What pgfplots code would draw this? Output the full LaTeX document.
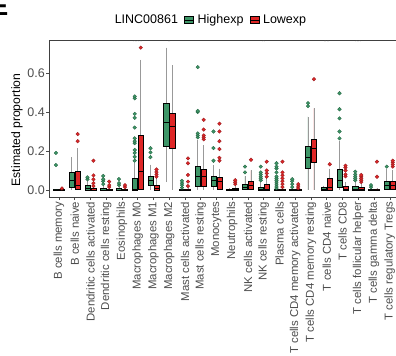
\documentclass[border=0pt]{standalone}
\usepackage{fontspec}
\setmainfont{Liberation Sans}
\usepackage{pgfplots}
\pgfplotsset{compat=1.18}
\usepgfplotslibrary{statistics}
\definecolor{hg}{RGB}{62,150,104}
\definecolor{hgD}{RGB}{35,100,65}
\definecolor{lr}{RGB}{222,38,38}
\definecolor{lrD}{RGB}{150,25,30}
\definecolor{tickc}{RGB}{77,77,77}
\pgfplotsset{
 bpbase/.style={forget plot, draw=black, line width=0.4bp, mark=*, mark size=1.8bp,
   boxplot/draw direction=y,
   boxplot/box extend=0.34, boxplot/whisker extend=0,
   boxplot/every whisker/.style={draw=gray!80, line width=0.6bp},
   boxplot/every median/.style={draw=black, line width=0.7bp}},
 gb/.style={bpbase, fill=hg, mark options={fill=hg, draw=hgD, line width=0.35bp}},
 rb/.style={bpbase, fill=lr, mark options={fill=lr, draw=lrD, line width=0.35bp}},
}
\newcommand{\BP}[8]{\addplot[#1, boxplot prepared={draw direction=y, draw position=#2, lower whisker=#3, lower quartile=#4, median=#5, upper quartile=#6, upper whisker=#7}] table[row sep=\\, y index=0] {v\\ #8};}
\begin{document}
\begin{tikzpicture}
\begin{axis}[
 at={(0,0)}, anchor=south west,
 scale only axis, width=349.7bp, height=157bp,
 xmin=-0.6, xmax=21.6, ymin=-0.036, ymax=0.769,
 axis line style={draw=black!75, line width=0.6bp},
 tick style={draw=black!70, line width=0.5bp},
 tick align=outside, major tick length=3bp,
 xtick pos=bottom, ytick pos=left,
 ytick={0,0.2,0.4,0.6}, yticklabels={0.0,0.2,0.4,0.6},
 yticklabel style={font=\fontsize{12.5bp}{14bp}\selectfont, text=tickc, inner sep=1.5bp},
 xtick={0,...,21},
 xticklabels={B cells memory, B cells naive, Dendritic cells activated, Dendritic cells resting, Eosinophils, Macrophages M0, Macrophages M1, Macrophages M2, Mast cells activated, Mast cells resting, Monocytes, Neutrophils, NK cells activated, NK cells resting, Plasma cells, T cells CD4 memory activated, T cells CD4 memory resting, T cells CD4 naive, T cells CD8, T cells follicular helper, T cells gamma delta, T cells regulatory Tregs},
 xticklabel style={rotate=90, anchor=east, font=\fontsize{11.4bp}{13bp}\selectfont, text=tickc, inner sep=1.5bp},
 ylabel={Estimated proportion},
 ylabel style={at={(axis description cs:-0.093,0.427)}, anchor=center, font=\fontsize{12.2bp}{14bp}\selectfont},
 legend columns=3,
 legend style={draw=none, fill=none, at={(axis description cs:0.456,1.127)}, anchor=center, font=\fontsize{12.5bp}{14bp}\selectfont, inner sep=0pt, nodes={inner xsep=1bp},
   /tikz/every even column/.append style={column sep=5bp},
   /tikz/every odd column/.append style={column sep=3bp}},
]
\addlegendimage{empty legend}\addlegendentry{LINC00861}
\addlegendimage{legend image code/.code={\draw[fill=hg,draw=black,line width=0.4bp] (0bp,-3.5bp) rectangle (9bp,3.5bp); \draw[black,line width=0.6bp] (0bp,0bp)--(9bp,0bp);}}\addlegendentry{Highexp\hspace{16bp}}
\addlegendimage{legend image code/.code={\draw[fill=lr,draw=black,line width=0.4bp] (0bp,-3.5bp) rectangle (9bp,3.5bp); \draw[black,line width=0.6bp] (0bp,0bp)--(9bp,0bp);}}\addlegendentry{Lowexp}
% 0 B cells memory
\BP{gb}{-0.19}{0}{0}{0}{0.002}{0.004}{0.128\\ 0.19\\}
\BP{rb}{0.19}{0}{0}{0}{0.002}{0.004}{0.008\\}
% 1 B cells naive
\BP{gb}{0.81}{0}{0.014}{0.051}{0.089}{0.168}{}
\BP{rb}{1.19}{0}{0.004}{0.026}{0.094}{0.214}{0.25\\ 0.287\\}
% 2 DC activated
\BP{gb}{1.81}{0}{0}{0.008}{0.025}{0.045}{0.055\\ 0.065\\}
\BP{rb}{2.19}{0}{0}{0}{0.008}{0.015}{0.02\\ 0.035\\ 0.055\\ 0.075\\ 0.15\\}
% 3 DC resting
\BP{gb}{2.81}{0}{0}{0}{0.01}{0.02}{0.03\\ 0.045\\ 0.055\\ 0.072\\}
\BP{rb}{3.19}{0}{0}{0}{0.003}{0.006}{0.015\\ 0.025\\ 0.043\\}
% 4 Eosinophils
\BP{gb}{3.81}{0}{0}{0}{0.008}{0.015}{0.025\\ 0.035\\ 0.056\\}
\BP{rb}{4.19}{0}{0}{0}{0.004}{0.008}{0.015\\ 0.025\\}
% 5 Macrophages M0
\BP{gb}{4.81}{0}{0}{0.005}{0.058}{0.14}{0.15\\ 0.17\\ 0.19\\ 0.205\\ 0.24\\ 0.25\\ 0.265\\ 0.32\\ 0.37\\ 0.39\\ 0.47\\ 0.48\\}
\BP{rb}{5.19}{0}{0.005}{0.094}{0.28}{0.667}{0.73\\}
% 6 Macrophages M1
\BP{gb}{5.81}{0}{0.022}{0.048}{0.073}{0.13}{0.168\\ 0.193\\ 0.214\\}
\BP{rb}{6.19}{0}{0}{0.01}{0.025}{0.06}{0.068\\ 0.08\\ 0.092\\ 0.105\\}
% 7 Macrophages M2
\BP{gb}{6.81}{0.04}{0.227}{0.347}{0.445}{0.73}{}
\BP{rb}{7.19}{0}{0.214}{0.325}{0.393}{0.64}{}
% 8 Mast cells activated
\BP{gb}{7.81}{0}{0}{0}{0.003}{0.006}{0.012\\ 0.025\\ 0.035\\ 0.047\\}
\BP{rb}{8.19}{0}{0}{0}{0.005}{0.01}{0.02\\ 0.043\\ 0.077\\ 0.137\\ 0.162\\}
% 9 Mast cells resting
\BP{gb}{8.81}{0}{0.02}{0.068}{0.12}{0.256}{0.27\\ 0.28\\ 0.29\\ 0.4\\ 0.405\\ 0.63\\}
\BP{rb}{9.19}{0}{0.02}{0.068}{0.106}{0.23}{0.26\\ 0.27\\ 0.28\\ 0.31\\ 0.36\\}
% 10 Monocytes
\BP{gb}{9.81}{0}{0.017}{0.048}{0.073}{0.128}{0.15\\ 0.215\\ 0.3\\}
\BP{rb}{10.19}{0}{0.005}{0.043}{0.063}{0.11}{0.15\\ 0.165\\ 0.21\\ 0.25\\ 0.3\\ 0.34\\}
% 11 Neutrophils
\BP{gb}{10.81}{0}{0}{0.002}{0.006}{0.01}{}
\BP{rb}{11.19}{0}{0}{0.002}{0.01}{0.02}{0.03\\ 0.04\\ 0.05\\}
% 12 NK cells activated
\BP{gb}{11.81}{0}{0.005}{0.015}{0.03}{0.07}{0.09\\ 0.12\\}
\BP{rb}{12.19}{0}{0.005}{0.026}{0.046}{0.1}{0.155\\}
% 13 NK cells resting
\BP{gb}{12.81}{0}{0}{0.005}{0.015}{0.04}{0.05\\ 0.06\\ 0.07\\ 0.08\\ 0.09\\ 0.12\\}
\BP{rb}{13.19}{0}{0}{0.005}{0.03}{0.06}{0.068\\ 0.085\\ 0.1\\ 0.145\\}
% 14 Plasma cells
\BP{gb}{13.81}{0}{0}{0}{0.003}{0.006}{0.01\\ 0.02\\ 0.03\\ 0.04\\ 0.05\\ 0.06\\ 0.07\\ 0.09\\ 0.11\\ 0.12\\ 0.137\\}
\BP{rb}{14.19}{0}{0}{0}{0.003}{0.006}{0.015\\ 0.03\\ 0.045\\ 0.06\\ 0.075\\ 0.09\\ 0.145\\}
% 15 CD4 memory activated
\BP{gb}{14.81}{0}{0}{0}{0.003}{0.006}{0.015\\ 0.03\\ 0.045\\ 0.055\\}
\BP{rb}{15.19}{0}{0}{0}{0.002}{0.004}{0.01\\ 0.02\\ 0.03\\}
% 16 CD4 memory resting
\BP{gb}{15.81}{0}{0.114}{0.166}{0.222}{0.376}{0.43\\ 0.445\\}
\BP{rb}{16.19}{0}{0.142}{0.214}{0.26}{0.419}{0.568\\}
% 17 CD4 naive
\BP{gb}{16.81}{0}{0}{0.003}{0.015}{0.022}{}
\BP{rb}{17.19}{0}{0}{0.015}{0.06}{0.11}{0.132\\}
% 18 CD8
\BP{gb}{17.81}{0}{0.012}{0.051}{0.108}{0.25}{0.265\\ 0.3\\ 0.367\\ 0.414\\ 0.496\\}
\BP{rb}{18.19}{0}{0}{0.005}{0.017}{0.04}{0.07\\ 0.08\\ 0.1\\ 0.115\\ 0.125\\}
% 19 Tfh
\BP{gb}{18.81}{0}{0}{0.005}{0.017}{0.04}{0.05\\ 0.06\\ 0.07\\ 0.08\\ 0.094\\}
\BP{rb}{19.19}{0}{0}{0.002}{0.012}{0.03}{0.04\\ 0.05\\ 0.06\\ 0.07\\ 0.077\\}
% 20 gamma delta
\BP{gb}{19.81}{0}{0}{0}{0.004}{0.008}{0.015\\ 0.025\\}
\BP{rb}{20.19}{0}{0}{0}{0.004}{0.008}{0.068\\ 0.145\\}
% 21 Tregs
\BP{gb}{20.81}{0}{0.005}{0.026}{0.046}{0.11}{0.12\\}
\BP{rb}{21.19}{0}{0.005}{0.025}{0.045}{0.1}{0.12\\ 0.13\\ 0.14\\ 0.15\\}
% significance
\node[font=\fontsize{8bp}{8bp}\selectfont, text=tickc] at (axis cs:5,0.758) {***};
\node[font=\fontsize{8bp}{8bp}\selectfont, text=tickc] at (axis cs:7,0.758) {*};
\node[font=\fontsize{8bp}{8bp}\selectfont, text=tickc] at (axis cs:13,0.758) {*};
\node[font=\fontsize{8bp}{8bp}\selectfont, text=tickc] at (axis cs:17,0.758) {**};
\node[font=\fontsize{8bp}{8bp}\selectfont, text=tickc] at (axis cs:19,0.758) {**};
\end{axis}
\node[anchor=base east, inner sep=0pt, font=\bfseries\fontsize{26.5bp}{28bp}\selectfont] at (-41bp,181.5bp) {E};
\pgfresetboundingbox
\path[use as bounding box] (-49.5bp,-159bp) rectangle (346.5bp,197bp);
\end{tikzpicture}
\end{document}
